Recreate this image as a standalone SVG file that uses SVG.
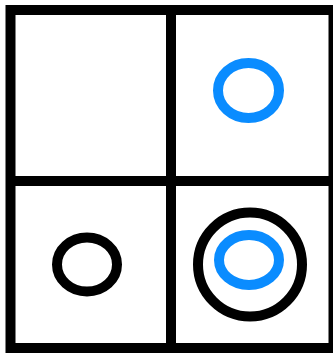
<svg xmlns="http://www.w3.org/2000/svg" width="333" height="354" viewBox="0 0 333 354">
  <style>
    .grid { fill: none; stroke: #000; stroke-width: 10; }
    .ring { fill: none; stroke-width: 10; }
    .black { stroke: #000; }
    .blue { stroke: #0a8cff; }
  </style>
  <rect x="0" y="0" width="333" height="354" fill="#ffffff"/>
  <g id="grid">
    <rect x="10.5" y="10" width="323" height="338" fill="#fdfdfb" class="grid"/>
    <line x1="171" y1="10" x2="171" y2="348" class="grid"/>
    <line x1="10.5" y1="181" x2="333" y2="181" class="grid"/>
  </g>
  <g id="blue-top-right">
    <ellipse cx="248.5" cy="90.5" rx="30.5" ry="27.5" class="ring blue"/>
  </g>
  <g id="black-bottom-left">
    <ellipse cx="87" cy="264.5" rx="30" ry="27" class="ring black"/>
  </g>
  <g id="bottom-right">
    <circle cx="250" cy="264.5" r="52" class="ring black"/>
    <ellipse cx="249" cy="260" rx="30" ry="25" class="ring blue"/>
  </g>
</svg>
